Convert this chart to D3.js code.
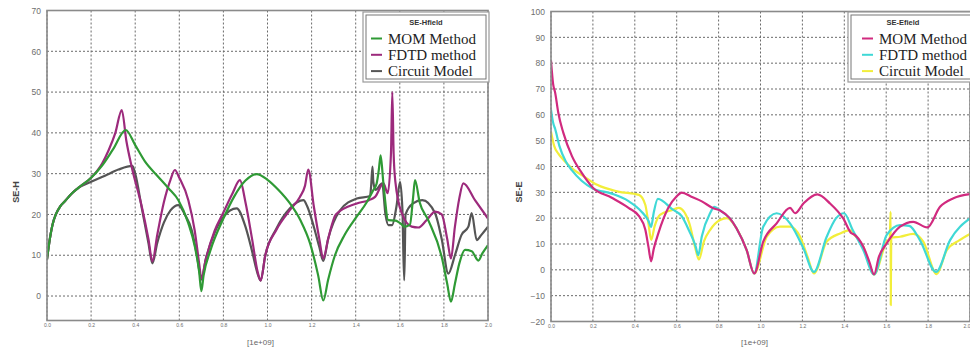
<!DOCTYPE html>
<html>
<head>
<meta charset="utf-8">
<script src="https://cdn.jsdelivr.net/npm/d3@7"></script>
<style>
body { margin: 0; background: #fff; }
svg { display: block; }
</style>
</head>
<body>
<svg id="chart" width="970" height="349"></svg>
<script>
'use strict';

// x axis is frequency in units of 1e+09 Hz
const xTicks = [0, 0.2, 0.4, 0.6, 0.8, 1.0, 1.2, 1.4, 1.6, 1.8, 2.0];
const hTicks = [0, 10, 20, 30, 40, 50, 60, 70];
const eTicks = [-20, -10, 0, 10, 20, 30, 40, 50, 60, 70, 80, 90, 100];
const seriesNames = ['MOM Method', 'FDTD method', 'Circuit Model'];

// SE-H (magnetic field shielding), [freq, dB]
const hMom = [[0,9],[0.01,13],[0.025,17.5],[0.04,20],[0.06,22],[0.082,23.3],[0.11,25],[0.142,26.5],[0.2,29],[0.25,32],[0.3,36],[0.357,40.7],[0.4,37],[0.444,33],[0.5,29.5],[0.55,26.5],[0.596,23.5],[0.64,18],[0.671,12],[0.69,6],[0.70,1.2],[0.71,5],[0.74,11],[0.8,19],[0.85,24.5],[0.9,28.3],[0.951,29.9],[1.0,28.5],[1.05,26],[1.102,22.7],[1.15,18.5],[1.193,12.9],[1.23,5],[1.253,-1.1],[1.275,4],[1.306,10],[1.35,15],[1.405,19.5],[1.45,23],[1.48,26],[1.495,27.6],[1.505,31],[1.513,34.5],[1.525,28],[1.548,18.6],[1.58,18.5],[1.61,17.5],[1.62,17],[1.646,17.5],[1.66,24],[1.669,28.4],[1.69,23],[1.729,18.6],[1.79,9.6],[1.815,3],[1.832,-1.4],[1.85,3],[1.87,8],[1.896,11.3],[1.926,11],[1.956,8.7],[1.975,10.5],[2.0,12.5]];
const hFdtd = [[0,9],[0.01,13],[0.025,17.5],[0.04,20],[0.06,22],[0.082,23.3],[0.11,25],[0.142,26.5],[0.2,29],[0.25,32.5],[0.28,35.8],[0.31,40],[0.339,45.6],[0.36,38],[0.384,31.7],[0.43,21.9],[0.46,14],[0.478,8.5],[0.5,15],[0.53,23],[0.56,28.5],[0.58,30.9],[0.6,29],[0.641,23.5],[0.67,16],[0.69,8],[0.70,4.3],[0.72,9],[0.76,16],[0.8,20.5],[0.84,25],[0.875,28.4],[0.9,23],[0.93,14],[0.955,6],[0.969,3.8],[0.99,10],[1.04,16.2],[1.102,21.1],[1.147,24.3],[1.17,27],[1.185,31],[1.21,22],[1.235,14],[1.253,9.2],[1.275,14],[1.31,20],[1.405,22.7],[1.46,23.5],[1.488,24.3],[1.526,27.6],[1.545,25.2],[1.56,35],[1.566,50],[1.572,35],[1.58,28],[1.609,20.3],[1.654,17],[1.684,16.8],[1.72,18.5],[1.76,20.7],[1.79,20],[1.815,14],[1.832,9.2],[1.85,17],[1.87,24],[1.888,27.6],[1.941,23.5],[2.0,19]];
const hCircuit = [[0,9],[0.01,13],[0.025,17.5],[0.04,20],[0.06,22],[0.082,23.3],[0.11,25],[0.142,26.5],[0.2,28],[0.263,29.5],[0.324,31],[0.387,31.9],[0.4,30],[0.43,21.5],[0.46,13],[0.478,8],[0.5,13],[0.53,18],[0.56,21],[0.596,22.3],[0.625,20],[0.656,16.2],[0.68,10],[0.70,4],[0.72,9],[0.76,15.5],[0.8,19.4],[0.86,21.5],[0.9,17],[0.93,11],[0.955,5.5],[0.969,3.8],[0.99,10],[1.04,16.5],[1.102,21.5],[1.163,23.5],[1.18,22],[1.21,17],[1.235,12],[1.253,8.6],[1.275,14],[1.329,21],[1.405,23.9],[1.465,24.5],[1.47,27],[1.476,31.7],[1.48,28],[1.49,26],[1.52,27.6],[1.535,20],[1.548,17.4],[1.565,17.4],[1.585,22],[1.601,28],[1.612,21],[1.6195,3.9],[1.6205,3.9],[1.626,20],[1.66,22.7],[1.702,23.5],[1.76,20.3],[1.79,14],[1.82,5.5],[1.85,10],[1.88,15],[1.911,17],[1.926,20.3],[1.949,13.7],[1.97,15],[2.0,17]];

// SE-E (electric field shielding), [freq, dB]
const eMom = [[0,81],[0.01,72],[0.02,68.5],[0.035,60.7],[0.059,53],[0.1,44],[0.146,37.6],[0.2,31.8],[0.29,27.9],[0.37,24],[0.42,20.8],[0.45,15.6],[0.465,9],[0.478,3.3],[0.49,8],[0.513,14.3],[0.56,24],[0.6,28.5],[0.624,29.9],[0.67,28.3],[0.72,26.5],[0.775,23.8],[0.807,23],[0.854,19.9],[0.886,16],[0.934,7.6],[0.97,-1.4],[1.013,10.9],[1.077,18],[1.141,24],[1.165,21.9],[1.205,25.7],[1.271,29.2],[1.332,25.7],[1.395,19.9],[1.435,14.1],[1.445,13.8],[1.491,8.9],[1.52,3],[1.542,-1.8],[1.565,5],[1.602,10.2],[1.666,16.7],[1.729,18.6],[1.796,16.4],[1.857,24.4],[1.921,27.7],[2.0,29.3]];
const eFdtd = [[0,62],[0.01,57],[0.02,54.5],[0.04,48],[0.07,42],[0.1,38.5],[0.146,34.5],[0.2,31.5],[0.29,29.5],[0.37,26.6],[0.43,22.7],[0.465,19],[0.478,16.6],[0.49,22],[0.51,27.5],[0.58,23.4],[0.624,20.8],[0.66,15],[0.69,9.2],[0.703,5.7],[0.72,13],[0.759,21.9],[0.78,24.4],[0.807,23],[0.854,19.9],[0.886,16],[0.934,7.6],[0.97,-1.4],[1.013,16.7],[1.077,21.9],[1.141,18],[1.205,8.3],[1.255,-0.8],[1.316,12.8],[1.36,19.9],[1.399,21.9],[1.44,15.4],[1.491,7.6],[1.542,-1.8],[1.602,13.4],[1.666,17.3],[1.71,17],[1.761,11.5],[1.838,-0.8],[1.905,11.5],[2.0,19.9]];
const eCircuit = [[0,53.5],[0.015,48],[0.035,45],[0.06,42.5],[0.1,39.3],[0.16,36],[0.22,32.9],[0.32,30.3],[0.42,29],[0.45,25.2],[0.465,18],[0.478,11.6],[0.495,17],[0.52,21.3],[0.58,23.2],[0.61,24],[0.66,18.1],[0.69,8],[0.706,4],[0.73,11],[0.759,15.4],[0.807,19.3],[0.84,20],[0.886,16],[0.934,7.6],[0.97,-1.4],[1.03,12.8],[1.093,16.7],[1.141,16.7],[1.189,12.8],[1.225,5],[1.255,-1.4],[1.316,10.9],[1.38,14.1],[1.427,15.4],[1.445,13.8],[1.491,8.9],[1.542,-1.8],[1.602,10.9],[1.617,12.3],[1.6212,22.5],[1.6218,-13.7],[1.624,12.5],[1.666,12.8],[1.729,13.9],[1.777,10.9],[1.841,-1.7],[1.889,7.6],[1.95,11.5],[2.0,13.9]];

const svg = d3.select('#chart');

function drawPanel(p)
{
    const g = svg.append('g');
    const x = d3.scaleLinear().domain([0, 2]).range([p.left, p.right]);
    const y = d3.scaleLinear().domain(p.yDomain).range([p.bottom, p.top]);

    // dotted grid
    g.selectAll('line.vg').data(xTicks).enter().append('line')
        .attr('x1', (d) => x(d)).attr('x2', (d) => x(d))
        .attr('y1', p.top).attr('y2', p.bottom)
        .attr('stroke', '#6a6a6a').attr('stroke-width', 1)
        .attr('stroke-dasharray', '2,2');
    g.selectAll('line.hg').data(p.yTicks).enter().append('line')
        .attr('x1', p.left).attr('x2', p.right)
        .attr('y1', (d) => y(d)).attr('y2', (d) => y(d))
        .attr('stroke', '#6a6a6a').attr('stroke-width', 1)
        .attr('stroke-dasharray', '2,2');

    // curves
    const clipId = 'clip' + p.id;
    svg.append('clipPath').attr('id', clipId).append('rect')
        .attr('x', p.left).attr('y', p.top)
        .attr('width', p.right - p.left).attr('height', p.bottom - p.top);

    const line = d3.line()
        .x((d) => x(d[0]))
        .y((d) => y(d[1]))
        .curve(d3.curveMonotoneX);

    g.append('g').attr('clip-path', 'url(#' + clipId + ')')
        .selectAll('path').data(p.drawOrder).enter().append('path')
        .attr('d', (i) => line(p.series[i]))
        .attr('fill', 'none')
        .attr('stroke', (i) => p.colors[i])
        .attr('stroke-width', 2.2)
        .attr('stroke-linejoin', 'round');

    // frame
    g.append('rect')
        .attr('x', p.left).attr('y', p.top)
        .attr('width', p.right - p.left).attr('height', p.bottom - p.top)
        .attr('fill', 'none').attr('stroke', '#8a8a8a').attr('stroke-width', 1.6);

    // y tick labels
    const yAxis = g.append('g')
        .attr('transform', 'translate(' + p.left + ',0)')
        .call(d3.axisLeft(y).tickValues(p.yTicks).tickSize(0).tickPadding(6));
    yAxis.select('.domain').remove();
    yAxis.selectAll('text')
        .attr('font-family', '"Liberation Sans Narrow", "Liberation Sans", sans-serif')
        .attr('font-size', 8.5).attr('fill', '#6e6e6e');

    // x tick labels
    const xAxis = g.append('g')
        .attr('transform', 'translate(0,' + p.bottom + ')')
        .call(d3.axisBottom(x).tickValues(xTicks).tickSize(0).tickPadding(3).tickFormat(d3.format('.1f')));
    xAxis.select('.domain').remove();
    xAxis.selectAll('text')
        .attr('font-family', '"Liberation Sans Narrow", "Liberation Sans", sans-serif')
        .attr('font-size', 5).attr('fill', '#6e6e6e');
    if (p.right >= 969)
    {
        // last label sits at the window edge
        xAxis.selectAll('text').filter((d) => d === 2).attr('text-anchor', 'end');
    }

    g.append('text')
        .attr('x', p.unitX).attr('y', 345)
        .attr('font-family', '"Liberation Sans", sans-serif')
        .attr('font-size', 8).attr('fill', '#666')
        .text('[1e+09]');

    g.append('text')
        .attr('transform', 'translate(' + p.titleX + ',192) rotate(-90)')
        .attr('text-anchor', 'middle')
        .attr('font-family', '"Liberation Sans", sans-serif')
        .attr('font-size', 9).attr('font-weight', 'bold').attr('fill', '#444')
        .text(p.yTitle);

    // legend
    const lg = g.append('g');
    lg.append('rect')
        .attr('x', p.legX).attr('y', 12).attr('width', p.legW).attr('height', 70)
        .attr('fill', '#fff').attr('stroke', '#9a9a9a').attr('stroke-width', 1.2);
    lg.append('rect')
        .attr('x', p.legX + 3).attr('y', 15).attr('width', p.legW - 6).attr('height', 64)
        .attr('fill', 'none').attr('stroke', '#777').attr('stroke-width', 1);
    lg.append('text')
        .attr('x', p.legX + p.legW / 2 - (p.legCut || 0)).attr('y', 25)
        .attr('text-anchor', 'middle')
        .attr('font-family', '"Liberation Sans", sans-serif')
        .attr('font-size', 7.5).attr('font-weight', 'bold').attr('fill', '#333')
        .text(p.legTitle);
    const rows = lg.selectAll('g.row').data([0, 1, 2]).enter().append('g')
        .attr('transform', (i) => 'translate(' + p.legX + ',' + (38.5 + i * 16.3) + ')');
    rows.append('line')
        .attr('x1', p.dashX).attr('x2', p.dashX + 11)
        .attr('y1', 0).attr('y2', 0)
        .attr('stroke', (i) => p.colors[i]).attr('stroke-width', 2);
    rows.append('text')
        .attr('x', p.dashX + 17).attr('y', 5)
        .attr('font-family', '"Liberation Serif", "Times New Roman", serif')
        .attr('font-size', 15).attr('fill', '#222')
        .text((i) => seriesNames[i]);
}

drawPanel({
    id: 'h', left: 47, right: 488, top: 10.5, bottom: 320.5,
    yDomain: [-6, 70], yTicks: hTicks,
    series: [hMom, hFdtd, hCircuit],
    colors: ['#2f9a35', '#9c2a7c', '#555555'],
    drawOrder: [2, 1, 0],
    yTitle: 'SE-H', titleX: 18.5, unitX: 247,
    legTitle: 'SE-Hfield', legX: 363, legW: 126, dashX: 8
});

drawPanel({
    id: 'e', left: 551, right: 970, top: 11.5, bottom: 321.5,
    yDomain: [-20, 100], yTicks: eTicks,
    series: [eMom, eFdtd, eCircuit],
    colors: ['#d12a7f', '#3fd8d6', '#f2ee3a'],
    drawOrder: [2, 1, 0],
    yTitle: 'SE-E', titleX: 522, unitX: 741,
    legTitle: 'SE-Efield', legX: 848, legW: 128, dashX: 14, legCut: 9
});
</script>
</body>
</html>
